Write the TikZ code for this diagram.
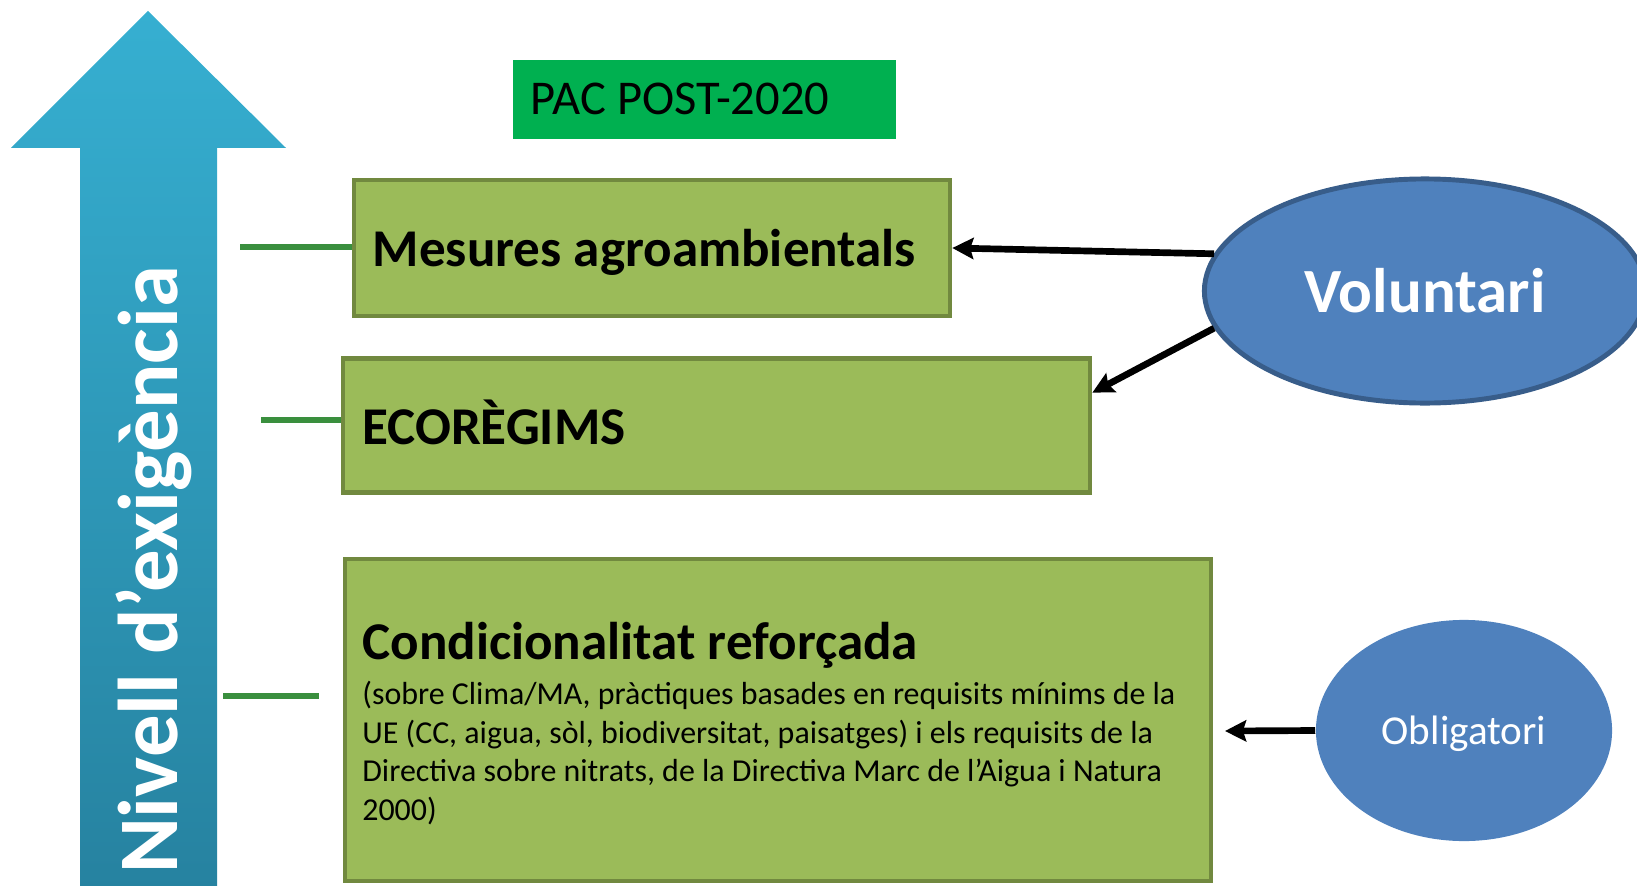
\documentclass[tikz,border=0pt]{standalone}
\usepackage{fontspec}
\setmainfont{Carlito}
\usetikzlibrary{arrows.meta,shapes.geometric}
\definecolor{arrowtop}{HTML}{36AFD1}
\definecolor{arrowbot}{HTML}{2682A0}
\definecolor{pacgreen}{HTML}{00B050}
\definecolor{boxfill}{HTML}{9BBB59}
\definecolor{boxline}{HTML}{71893F}
\definecolor{ovalfill}{HTML}{4F81BD}
\definecolor{ovalline}{HTML}{385D8A}
\definecolor{tickgreen}{HTML}{3A8F3E}
\tikzset{
  boxtitle/.style={font=\fontsize{15.1pt}{18pt}\selectfont\bfseries},
  levelbox/.style={boxtitle, draw=boxline, fill=boxfill, line width=1.2pt, inner xsep=0.19cm, inner ysep=0pt,
    align=flush left, text width=#1, text height=10.8pt, text depth=0pt},
  oval/.style={ellipse, fill=ovalfill, text=white, inner sep=0pt, text depth=0pt},
  tick/.style={draw=tickgreen, line width=1.6pt},
  pointer/.style={draw=black, line width=1.9pt, -{Stealth[length=6pt,width=6pt,inset=0.9pt]}}
}
\begin{document}
\begin{tikzpicture}[x=0.01cm, y=-0.01cm]
\useasboundingbox (0,0) rectangle (1637,885);

\shade[top color=arrowtop, bottom color=arrowbot] (148,11) -- (286,148) -- (217,148) -- (217,890)
  -- (80,890) -- (80,148) -- (11,148) -- cycle;
\node[rotate=90, anchor=base, text=white, inner sep=0pt, font=\fontsize{24.1pt}{29pt}\selectfont\bfseries]
  (level) at (177,570) {Nivell d’exigència};

\node[fill=pacgreen, inner xsep=0.18cm, inner ysep=0pt, text width=3.47cm, minimum height=0.79cm,
  text height=8.25pt, text depth=0pt, align=flush left, font=\fontsize{13.8pt}{16pt}\selectfont]
  (pac) at (704.5,99.5) {PAC POST-2020};

\node[levelbox=5.58cm, minimum height=1.36cm] (mes) at (652,248) {Mesures agroambientals};
\node[levelbox=7.085cm, minimum height=1.34cm] (eco) at (716.75,425.5) {ECORÈGIMS};
\node[levelbox=8.28cm, minimum height=3.22cm] (cond) at (778,720) {};
\node[boxtitle, anchor=base west, inner sep=0pt] (condTitle) at ([shift={(19,103)}]cond.north west)
  {Condicionalitat reforçada};
\node[anchor=north west, inner sep=0pt, align=left, font=\fontsize{9.08pt}{10.95pt}\selectfont]
  (condText) at ([shift={(0,17.1)}]condTitle.base west)
  {\strut(sobre Clima/MA, pràctiques basades en requisits mínims de la\\
   UE (CC, aigua, sòl, biodiversitat, paisatges) i els requisits de la\\
   Directiva sobre nitrats, de la Directiva Marc de l’Aigua i Natura\\
   2000)};

\node[oval, draw=ovalline, line width=1.4pt, minimum width=4.41cm, minimum height=2.24cm, text height=12.5pt,
  font=\fontsize{17.9pt}{21pt}\selectfont\bfseries] (vol) at (1425,291) {Voluntari};
\node[oval, minimum width=2.96cm, minimum height=2.21cm, text height=7.7pt,
  font=\fontsize{11.7pt}{14pt}\selectfont] (obl) at (1464,730.5) {Obligatori};

\coordinate (mesTick) at (240,247);
\coordinate (ecoTick) at (261,420);
\coordinate (condTickA) at (223,696);
\coordinate (condTickB) at (319,696);
\draw[tick] (mesTick) -- (mesTick -| mes.west);
\draw[tick] (ecoTick) -- (ecoTick -| eco.west);
\draw[tick] (condTickA) -- (condTickB);

\coordinate (oblTip) at (1225,731);
\draw[pointer] (vol.170) -- (mes.east);
\draw[pointer] (vol.190) -- (eco.5);
\draw[pointer] (obl.west) -- (oblTip);
\end{tikzpicture}
\end{document}
